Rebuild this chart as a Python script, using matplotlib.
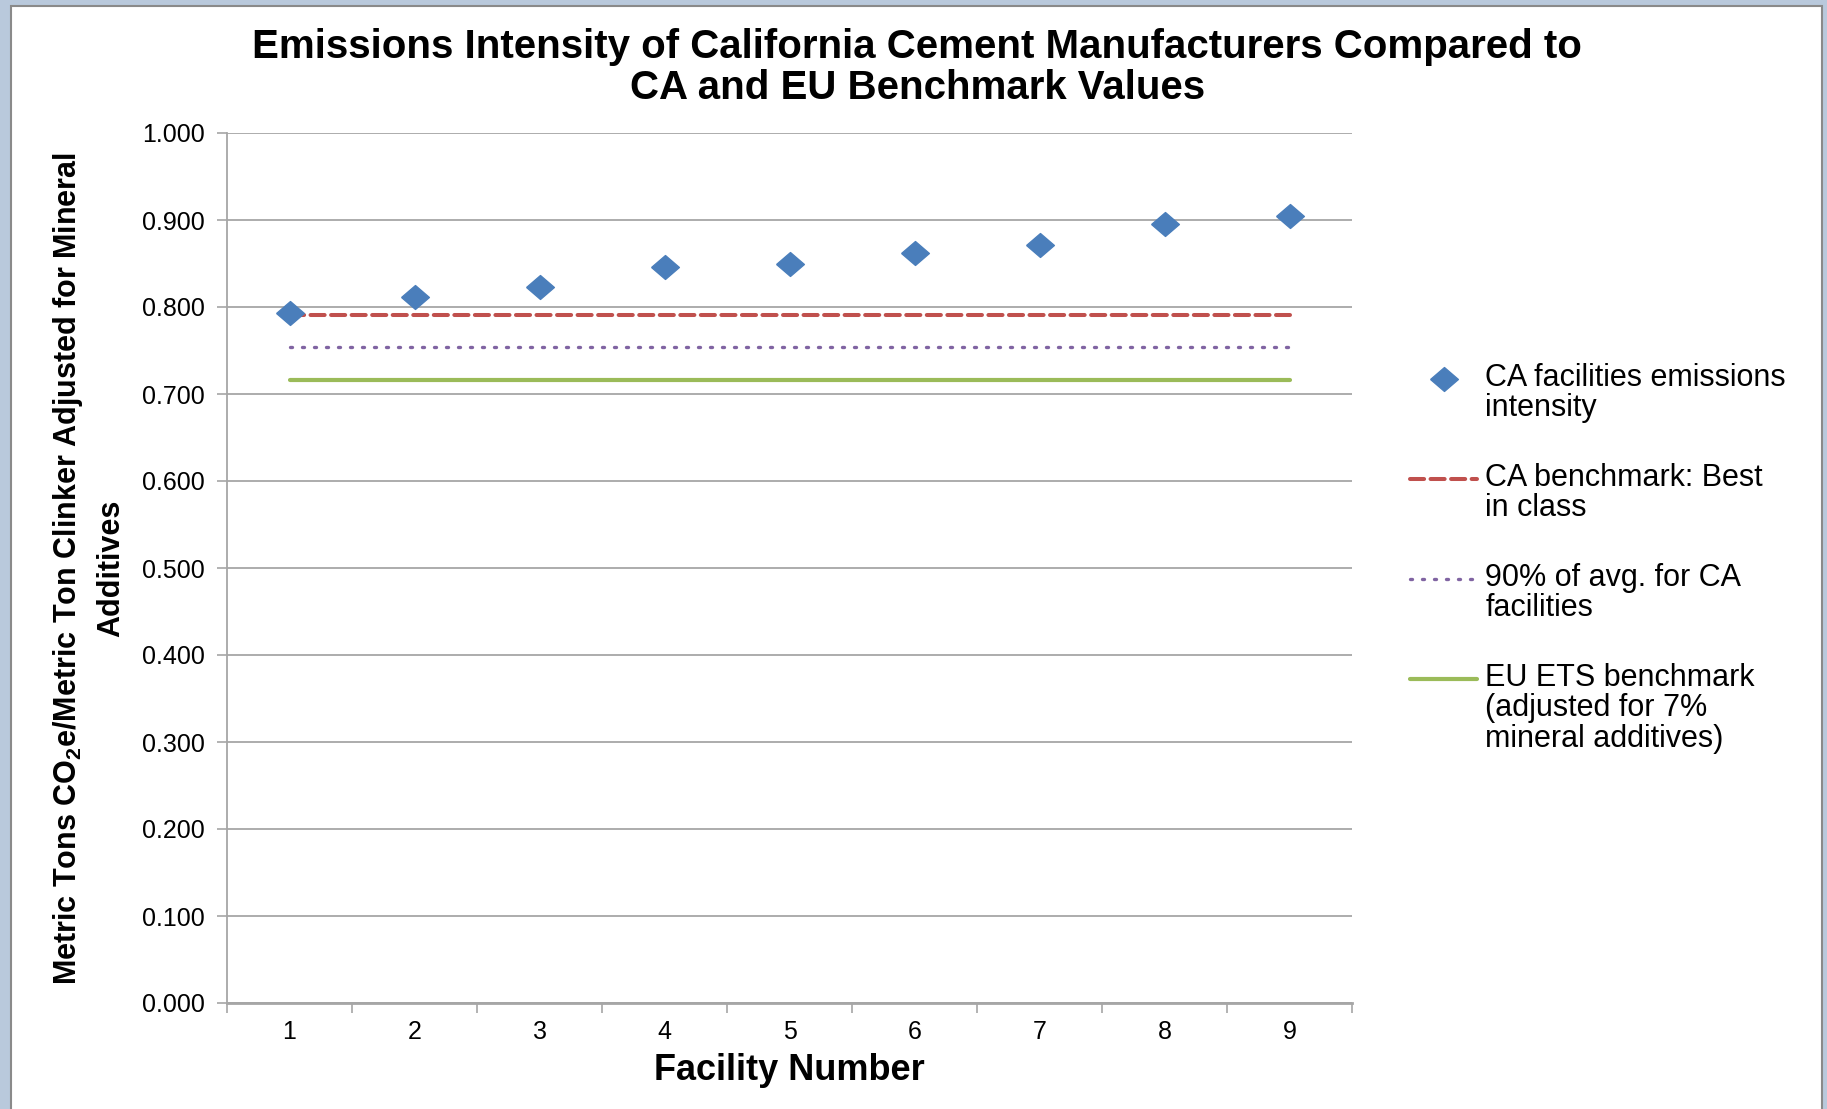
import matplotlib.pyplot as plt
from matplotlib.legend_handler import HandlerLine2D
from matplotlib.patches import Rectangle

facilities = [1, 2, 3, 4, 5, 6, 7, 8, 9]
intensity = [0.793, 0.812, 0.823, 0.846, 0.850, 0.862, 0.871, 0.895, 0.905]
best_in_class = 0.791
avg_90 = 0.754
eu_ets = 0.716
yticks = [0.0, 0.1, 0.2, 0.3, 0.4, 0.5, 0.6, 0.7, 0.8, 0.9, 1.0]

labels = [
    "CA facilities emissions\nintensity",
    "CA benchmark: Best\nin class",
    "90% of avg. for CA\nfacilities",
    "EU ETS benchmark\n(adjusted for 7%\nmineral additives)",
]

plt.rcParams["font.family"] = ["Liberation Sans", "DejaVu Sans"]
grid_c = "#a6a6a6"
LEG_FS = 22
SHIFT_PT = 21.3  # raise legend key by this much per extra text line


class FirstLineHandler(HandlerLine2D):
    # Excel puts the legend key next to the first text line, not the middle
    def __init__(self, shift, **kw):
        super().__init__(**kw)
        self.shift = shift

    def create_artists(self, legend, orig_handle, xdescent, ydescent,
                       width, height, fontsize, trans):
        return super().create_artists(legend, orig_handle, xdescent,
                                      ydescent - self.shift, width, height,
                                      fontsize, trans)


fig = plt.figure(figsize=(18.27, 11.09), dpi=100, facecolor="#b9c9dc")
fig.patches.append(Rectangle((11 / 1827, -0.01), 1811 / 1827, 1.01 - 6 / 1109,
                             transform=fig.transFigure, facecolor="white",
                             edgecolor="#8a8a8a", linewidth=1.5, zorder=-10))

ax = fig.add_axes([227 / 1827, 1 - 1003 / 1109, 1125 / 1827, 870 / 1109])
ax.set_facecolor("none")

diamond = [(-0.5, 0), (0, 0.43), (0.5, 0), (0, -0.43), (-0.5, 0)]
n = len(facilities)
h0, = ax.plot(facilities, intensity, linestyle="none", marker=diamond, markersize=20,
              color="#4a7ebb", markeredgecolor="#4a7ebb", label=labels[0], zorder=5)
h1, = ax.plot([facilities[0], facilities[-1]], [best_in_class] * 2, color="#c0504d",
              linewidth=2.9, dashes=(3.5, 1.6), dash_capstyle="round",
              label=labels[1], zorder=4)
h2, = ax.plot([facilities[0], facilities[-1]], [avg_90] * 2, color="#8064a2",
              linewidth=2.4, linestyle=(0, (0.6, 3.0)), dash_capstyle="round",
              label=labels[2], zorder=4)
h3, = ax.plot([facilities[0], facilities[-1]], [eu_ets] * 2, color="#9bbb59",
              linewidth=3.0, solid_capstyle="round", label=labels[3], zorder=4)

ax.set_xlim(0.5, n + 0.5)
ax.set_ylim(0, 1.0)
ax.set_yticks(yticks)
ax.set_yticklabels([f"{v:.3f}" for v in yticks])
ax.set_xticks([i + 0.5 for i in range(n + 1)])
ax.set_xticklabels([])
ax.set_xticks(facilities, minor=True)
ax.set_xticklabels([str(f) for f in facilities], minor=True)

ax.tick_params(axis="x", which="major", length=7, width=1.2, color=grid_c)
ax.tick_params(axis="x", which="minor", length=0, pad=12, labelsize=18)
ax.tick_params(axis="y", length=7, width=1.2, color=grid_c, pad=9, labelsize=18)

ax.grid(axis="y", color=grid_c, linewidth=1.3)
ax.set_axisbelow(True)
for s in ["top", "right"]:
    ax.spines[s].set_visible(False)
ax.spines["left"].set_color(grid_c)
ax.spines["left"].set_linewidth(1.3)
ax.spines["bottom"].set_color(grid_c)
ax.spines["bottom"].set_linewidth(2.0)

ax.set_xlabel("Facility Number", fontsize=26, fontweight="bold", labelpad=6.5)
ax.set_ylabel("Metric Tons CO$_\\mathregular{2}$e/Metric Ton Clinker Adjusted for Mineral\nAdditives",
              fontsize=22, fontweight="bold", linespacing=1.45)
ax.yaxis.set_label_coords(-0.09, 0.5)

fig.text(0.502, 1 - 67.5 / 1109,
         "Emissions Intensity of California Cement Manufacturers Compared to\nCA and EU Benchmark Values",
         ha="center", va="center", fontsize=29, fontweight="bold", linespacing=1.1)

handles = [h0, h1, h2, h3]
handler_map = {}
for h, lab in zip(handles, labels):
    handler_map[h] = FirstLineHandler(shift=lab.count("\n") * SHIFT_PT, numpoints=1)
leg = ax.legend(handles, labels, handler_map=handler_map,
                loc="upper left", bbox_to_anchor=(1410 / 1827, 1 - 363 / 1109),
                bbox_transform=fig.transFigure, frameon=False, fontsize=LEG_FS,
                handlelength=2.2, handletextpad=0.27, labelspacing=1.29,
                borderpad=0, borderaxespad=0)
for t in leg.get_texts():
    t.set_linespacing(1.02)

fig.savefig("out.png", dpi=100, facecolor=fig.get_facecolor())
